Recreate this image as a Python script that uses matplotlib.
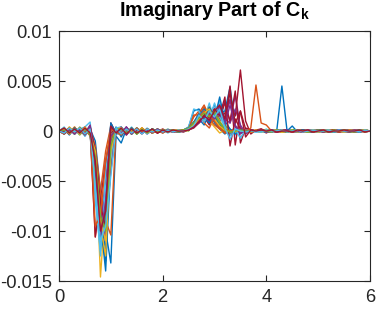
import numpy as np
import matplotlib
matplotlib.use("Agg")
import matplotlib.pyplot as plt

plt.rcParams['font.family'] = ['Liberation Sans', 'DejaVu Sans']
plt.rcParams['mathtext.fontset'] = 'custom'
plt.rcParams['mathtext.rm'] = 'Liberation Sans'
plt.rcParams['mathtext.bf'] = 'Liberation Sans:bold'
plt.rcParams['axes.unicode_minus'] = False

# x grid (frequency), step 0.1 from 0 to 6
x_values = [round(0.1 * k, 1) for k in range(61)]
UNIT = 1e-4  # values below are in units of 1e-4

# segment A: x = 0.0 .. 0.6
seg_A = [
    [0, 2, -3, 2, -2, 3, -4], [0, -2, 3, -1, 2, -3, 1], [0, 1, -2, 3, -3, 2, -2],
    [0, -3, 2, -2, 3, -2, 3], [0, 2, -1, 3, -2, -3, 2], [0, -1, 3, -3, 2, 4, 9],
    [0, 3, -2, 4, -3, 2, -1], [0, -2, 2, -3, 3, -5, 2], [0, 1, -3, 2, -1, 3, -3],
    [0, -3, 4, -2, 2, -4, 4], [0, 2, -2, 1, -3, 3, -2], [0, -1, 2, -3, 3, -2, 5],
    [0, 4, -3, 2, -2, 3, -3], [0, -2, 3, -2, 1, -4, 3], [0, 2, -4, 3, -2, 2, -1],
    [0, -3, 2, -1, 3, -3, 2], [0, 1, -2, 4, -3, 3, -4], [0, -2, 3, -3, 2, -2, 6],
    [0, 3, -1, 2, -4, 2, -2], [0, -1, 2, -2, 3, -5, 3], [0, 2, -3, 3, -2, 4, -3],
    [0, -3, 1, -2, 2, -3, 2], [0, 2, -2, 3, -3, 2, -5], [0, -2, 4, -1, 2, -3, 3],
    [0, 1, -3, 2, -2, 3, -2], [0, -2, 2, -3, 4, -2, 4], [0, 3, -2, 1, -3, 2, -3],
    [0, -1, 3, -2, 2, -4, 4], [0, 2, -2, 3, -1, 3, -2], [0, -3, 2, -2, 3, -2, 3],
    [0, 2, -3, 2, -3, 4, -3], [0, -2, 1, -3, 2, -3, 5], [0, 1, -2, 2, -2, 2, -4],
    [0, -2, 3, -1, 3, -3, 2], [0, 3, -2, 2, -2, 3, -2],
]

# segment B: x = 0.7 .. 1.1 (trough)
seg_B = [
    [-20, -90, -140, -30, 2], [-106, -60, -20, 5, -2], [-15, -146, -70, -5, 3],
    [-30, -95, -85, -8, 1], [-25, -80, -100, -10, 2], [-40, -110, -60, 8, -3],
    [-20, -75, -105, -15, 3], [-10, -60, -100, -132, -5], [-35, -100, -80, 3, -1],
    [-20, -120, -90, -10, 2], [-45, -90, -50, 4, -2], [-30, -105, -75, -5, 1],
    [-60, -125, -40, 6, -2], [-106, -70, -30, -2, 2], [-25, -85, -120, -20, 3],
    [-15, -60, -90, -104, 2], [-40, -100, -95, -10, 1], [-20, -80, -110, -5, 2],
    [-30, -95, -70, 2, -1], [-50, -115, -85, -25, 3], [-35, -90, -80, 8, -2],
    [-20, -100, -130, -10, 4], [-40, -110, -60, -8, 2], [-25, -95, -125, -15, 1],
    [-30, -85, -65, 3, -1], [-45, -100, -90, -5, 2], [-70, -120, -55, -30, 3],
    [-20, -75, -95, -40, 2], [-30, -105, -80, 8, -3], [-95, -85, -30, 2, -1],
    [-20, -90, -110, -20, 2], [-35, -105, -70, -5, 1], [-25, -85, -100, -15, 2],
    [-55, -110, -95, -45, 3], [-30, -100, -80, 5, -2],
]

# segment D: x = 1.2 .. 2.3
seg_D = [
    [3, -2, 3, -2, 2, -2, 1, -1, 1, -1, 1, 0], [-4, 3, -2, 3, -2, 2, -1, 2, -1, 1, -1, 1],
    [2, -3, 2, -2, 3, -1, 2, -2, 1, -1, 0, 1], [-2, 4, -3, 2, -2, 2, -2, 1, -1, 1, -1, 0],
    [4, -2, 2, -3, 2, -1, 2, -1, 1, 0, 1, -1], [-3, 2, -3, 2, -2, 3, -1, 1, -2, 1, -1, 1],
    [2, -4, 3, -2, 2, -2, 2, -1, 1, -1, 1, 0], [-12, 2, -2, 3, -2, 1, -2, 1, -1, 1, 0, -1],
    [3, -3, 2, -1, 3, -2, 1, -2, 1, -1, 1, 0], [-2, 3, -3, 2, -1, 2, -2, 1, -1, 2, -1, 1],
    [4, -3, 1, -2, 2, -3, 1, -1, 2, -1, 0, -1], [-3, 2, -2, 3, -2, 1, -1, 2, -1, 0, 1, -1],
    [2, -2, 4, -2, 1, -2, 2, -1, 1, -1, 1, 1], [-4, 3, -2, 1, -3, 2, -1, 1, -1, 1, -1, 0],
    [3, -1, 2, -3, 2, -1, 2, -2, 1, 0, 1, -1], [-2, 3, -3, 2, -2, 2, -1, 1, -2, 1, -1, 1],
    [2, -3, 2, -2, 3, -2, 1, -1, 1, -1, 1, -1], [-3, 4, -2, 2, -2, 1, -2, 2, -1, 1, 0, 1],
    [3, -2, 3, -3, 1, -2, 2, -1, 1, -1, 1, 0], [-2, 2, -2, 3, -2, 2, -1, 1, -1, 2, -1, 0],
    [4, -3, 2, -1, 2, -2, 1, -2, 1, -1, 1, -1], [-6, 3, -3, 2, -2, 1, -2, 1, -1, 1, -1, 1],
    [2, -2, 3, -2, 3, -1, 1, -1, 2, -1, 0, -1], [-3, 3, -1, 2, -2, 2, -2, 1, -1, 1, -1, 1],
    [3, -4, 2, -2, 1, -2, 2, -1, 1, -1, 1, 0], [-2, 2, -3, 3, -2, 2, -1, 2, -1, 1, -1, 1],
    [4, -2, 2, -2, 2, -3, 1, -1, 1, -2, 1, -1], [-3, 3, -2, 1, -2, 2, -1, 1, -1, 1, 0, 1],
    [2, -3, 3, -2, 2, -1, 2, -1, 1, -1, 1, -1], [-4, 2, -2, 3, -1, 2, -2, 1, -2, 1, -1, 0],
    [3, -2, 1, -2, 3, -2, 1, -1, 1, -1, 1, 1], [-2, 4, -3, 2, -2, 1, -1, 2, -1, 1, -1, 0],
    [2, -2, 2, -3, 2, -2, 2, -1, 1, 0, 1, -1], [-3, 2, -2, 2, -3, 2, -1, 1, -1, 1, -1, 1],
    [3, -3, 2, -2, 1, -1, 2, -2, 1, -1, 1, 0],
]

# segment E: x = 2.4 .. 3.8 (positive bumps)
seg_E = [
    [0, 2, 5, 12, 6, 18, 8, 2, -3, 1, 0, -1, 0, 1, 0],
    [1, 3, 14, 20, 8, 3, 14, 5, -2, 0, 1, 0, -1, 0, 1],
    [0, 1, 6, 14, 22, 10, 4, -2, 1, 0, -1, 1, 0, 0, 0],
    [-1, 2, 4, 10, 18, 8, 22, 25, 6, -4, 1, 0, 1, -1, 0],
    [1, 0, 8, 15, 10, 20, 12, 4, -1, 1, 0, -1, 0, 1, 0],
    [0, 3, 6, 18, 12, 28, 10, 20, 4, -3, 2, -7, 1, 0, -1],
    [0, 1, 3, 8, 14, 6, 20, 10, 18, 30, 15, 61, 10, -3, 1],
    [1, 2, 8, 12, 20, 14, 26, 18, 20, 44, 5, -2, 1, 0, 0],
    [0, 2, 6, 16, 24, 12, 6, 2, -1, 0, 1, 0, 0, -1, 0],
    [-1, 1, 5, 10, 16, 22, 14, 6, 1, -1, 0, 1, 0, 0, 1],
    [0, 2, 4, 8, 12, 20, 14, 26, 12, 8, 36, 4, -3, 1, 0],
    [1, 3, 9, 14, 20, 12, 18, 8, 2, -2, 1, 0, 0, 0, 0],
    [0, 2, 7, 13, 9, 22, 16, 30, 6, 2, -4, 1, 0, 0, -1],
    [0, 1, 4, 10, 16, 12, 24, 16, 10, 45, -14, 20, 2, -1, 0],
    [1, 4, 20, 22, 14, 8, 18, 6, 1, -2, 1, 0, 0, 1, 0],
    [0, 2, 8, 18, 26, 14, 10, 3, -2, 1, 0, 0, 1, 0, 0],
    [0, 3, 7, 12, 18, 24, 16, 8, 2, -1, 1, 0, 0, 0, 0],
    [-1, 2, 5, 11, 15, 10, 20, 14, 30, 8, 22, 6, -2, 1, 0],
    [1, 2, 6, 10, 14, 18, 12, 16, 6, 1, -1, 0, 1, 0, 0],
    [0, 4, 22, 20, 10, 16, 24, 8, 3, 0, 1, 0, -1, 0, 0],
    [0, 2, 5, 9, 18, 14, 22, 12, 28, 10, 40, -12, 3, 1, 0],
    [0, 3, 8, 14, 22, 16, 12, 34, 10, 2, -3, 1, 0, 0, 0],
    [1, 2, 16, 16, 10, 22, 14, 5, 1, -1, 0, 1, 0, 0, 0],
    [0, 1, 6, 13, 18, 14, 20, 10, 3, 0, 1, 0, 0, -1, 0],
    [0, 3, 7, 12, 20, 16, 10, 18, 6, 26, 4, -2, 1, 0, 0],
    [1, 2, 7, 15, 12, 20, 16, 9, 2, -1, 1, 0, 0, 0, 0],
    [0, 2, 6, 14, 20, 12, 28, 14, 4, -5, 2, -7, 1, 0, 0],
    [0, 2, 5, 11, 17, 13, 22, 15, 34, -15, 12, 2, -1, 0, 0],
    [0, 3, 9, 17, 12, 24, 14, 6, 1, -1, 0, 1, 0, 0, 0],
    [1, 2, 8, 14, 20, 16, 10, 4, 2, 0, 1, 0, -1, 3, 46],
    [0, 2, 6, 12, 18, 22, 12, 5, 1, -1, 0, 0, 1, 0, 0],
    [0, 1, 4, 9, 14, 18, 12, 24, 10, 32, 6, -3, 1, 0, 0],
    [1, 3, 8, 13, 18, 14, 20, 8, 2, -1, 0, 1, 0, 0, 0],
    [0, 2, 5, 16, 10, 20, 14, 22, 3, -8, 2, 0, -1, 0, 0],
    [0, 1, 4, 9, 15, 11, 20, 26, 12, 38, 8, 20, -6, 1, 0],
]

# segment F: x = 3.9 .. 6.0 (tail)
seg_F = [
    [0, 1, -1, 1, 0, -1, 1, 0, -1, 1, 0, 0, 1, -1, 0, 1, 0, -1, 0, 1, 0, 0],
    [1, -1, 0, 1, -1, 1, 0, -1, 1, 0, -1, 1, 0, 0, -1, 1, 0, 1, -1, 0, 0, 0],
    [-1, 1, 0, -1, 1, 0, 1, -1, 0, 1, -1, 0, 1, 0, 0, -1, 1, 0, 0, -1, 1, 0],
    [1, 0, -1, 1, -1, 0, 1, 0, -1, 0, 1, -1, 0, 1, 0, 0, -1, 1, 0, 0, 0, 0],
    [0, -1, 1, 0, 1, -1, 0, 1, 0, -1, 1, 0, -1, 0, 1, 0, 0, 1, -1, 0, 1, 0],
    [-1, 2, -1, 0, 1, 0, -1, 1, 0, 0, -1, 1, 0, -1, 1, 0, 0, 0, 1, -1, 0, 0],
    [2, -1, 1, -1, 0, 1, -1, 0, 1, -1, 0, 1, 0, 0, -1, 1, 0, -1, 0, 1, 0, 0],
    [0, 1, 0, -1, 1, -1, 1, 0, 0, 1, -1, 0, 1, -1, 0, 0, 1, 0, -1, 0, 1, 0],
    [1, -1, 1, 0, -1, 0, 1, -1, 1, 0, 0, -1, 1, 0, 0, 1, -1, 0, 0, 1, 0, 0],
    [0, 0, 1, -1, 0, 1, 0, -1, 1, -1, 1, 0, 0, -1, 1, 0, 0, 1, 0, -1, 0, 0],
    [1, 0, -1, 1, 0, -1, 1, 1, -1, 0, 1, 0, -1, 1, 0, -1, 0, 0, 1, 0, 0, 0],
    [-1, 1, 0, 0, 1, -1, 0, 1, 0, -1, 0, 1, -1, 0, 1, 0, 1, -1, 0, 0, 1, 0],
    [0, 1, -1, 0, 0, 1, -1, 1, 0, 0, -1, 1, 0, 1, -1, 0, 0, 1, 0, -1, 0, 0],
    [1, -2, 1, 0, -1, 1, 0, 0, -1, 1, 0, -1, 1, 0, 0, 1, -1, 0, 1, 0, 0, 0],
    [0, -1, 0, 1, -1, 1, 0, -1, 0, 1, 0, 0, -1, 1, 0, 0, 1, -1, 0, 1, 0, 0],
    [1, 0, 1, -1, 0, 0, 1, -1, 1, 0, -1, 0, 1, 0, -1, 1, 0, 0, -1, 0, 1, 0],
    [-1, 0, 1, 0, -1, 1, 0, 1, -1, 0, 0, 1, 0, -1, 1, 0, -1, 0, 1, 0, 0, 0],
    [1, -1, 0, 1, 0, -1, 1, 0, 0, -1, 1, 0, 1, -1, 0, 1, 0, 0, -1, 1, 0, 0],
    [0, 1, -1, 1, -1, 0, 0, 1, -1, 1, 0, -1, 0, 0, 1, 0, -1, 1, 0, 0, -1, 0],
    [0, -1, 1, 0, 1, 0, -1, 0, 1, -1, 0, 1, 0, 1, -1, 0, 0, 1, 0, -1, 0, 0],
    [2, 0, -1, 1, 0, 1, -1, 0, 1, 0, -1, 1, 0, 0, 1, -1, 0, 0, 1, 0, 0, 0],
    [0, 1, 0, -1, 1, 0, 1, -1, 0, 0, 1, -1, 1, 0, 0, -1, 1, 0, 0, 1, -1, 0],
    [1, -1, 1, 0, 0, -1, 1, 0, -1, 1, 0, 1, -1, 0, 1, 0, 0, -1, 1, 0, 0, 0],
    [-1, 1, 0, 1, -1, 0, 0, 1, 0, -1, 1, 0, 0, 1, -1, 0, 1, 0, -1, 0, 1, 0],
    [0, 0, 1, -1, 1, 0, -1, 1, 0, 0, -1, 1, 0, -1, 0, 1, 0, 1, -1, 0, 0, 0],
    [1, -1, 0, 0, 1, -1, 1, 0, 1, -1, 0, 0, 1, 0, -1, 1, 0, -1, 0, 1, 0, 0],
    [-1, 1, -1, 1, 0, 0, 1, -1, 0, 1, 0, -1, 1, 0, 0, 1, -1, 0, 1, 0, 0, 0],
    [1, 0, 0, -1, 1, 1, -1, 0, 1, 0, -1, 1, 0, 0, 1, -1, 0, 1, 0, -1, 0, 0],
    [0, -1, 1, 0, 45, 0, 5, -1, 1, 0, -1, 1, 0, 1, -1, 0, 1, 0, 0, -1, 1, 0],
    [8, 6, 0, -1, 1, 0, -1, 1, 0, 1, -1, 0, 1, 0, 0, -1, 1, 0, 1, 0, -1, 0],
    [0, 1, 0, 1, -1, 0, 1, -1, 0, 0, 1, -1, 0, 1, 0, 0, -1, 1, 0, 0, 1, 0],
    [1, -1, 1, -1, 0, 1, 0, 0, -1, 1, 0, 1, -1, 0, 0, 1, 0, -1, 1, 0, 0, 0],
    [0, 0, -1, 1, 0, -1, 1, 1, 0, -1, 0, 1, 0, -1, 1, 0, 1, 0, -1, 0, 0, 0],
    [-1, 1, 0, 0, 1, -1, 0, 1, -1, 0, 1, 0, 0, 1, -1, 1, 0, 0, 0, -1, 1, 0],
    [1, 0, 1, -1, 0, 0, -1, 1, 0, 1, -1, 0, 1, -1, 0, 0, 1, 0, 0, 1, -1, 0],
]

colors = ['#0072BD', '#D95319', '#EDB120', '#7E2F8E', '#77AC30', '#4DBEEE', '#A2142F']

y_ticks = [-0.015, -0.01, -0.005, 0, 0.005, 0.01]
y_tick_labels = ['-0.015', '-0.01', '-0.005', '0', '0.005', '0.01']
x_ticks = [0, 2, 4, 6]
x_tick_labels = ['0', '2', '4', '6']

for name, seg, n in [('A', seg_A, 7), ('B', seg_B, 5), ('D', seg_D, 12), ('E', seg_E, 15), ('F', seg_F, 22)]:
    for r, row in enumerate(seg):
        assert len(row) == n, f"seg {name} row {r} has {len(row)}"

series = [np.array(a + b + d + e + f) * UNIT for a, b, d, e, f in zip(seg_A, seg_B, seg_D, seg_E, seg_F)]

fig = plt.figure(figsize=(3.91, 3.12), dpi=100)
ax = fig.add_axes([59 / 391, 31 / 312, 311 / 391, 250 / 312])
x = np.array(x_values)
for i, s in enumerate(series):
    ax.plot(x, s, color=colors[i % 7], lw=1.0)

ax.set_xlim(0, 6)
ax.set_ylim(-0.015, 0.01)
ax.set_xticks(x_ticks)
ax.set_xticklabels(x_tick_labels)
ax.set_yticks(y_ticks)
ax.set_yticklabels(y_tick_labels)
edge = '#262626'
for sp in ax.spines.values():
    sp.set_color(edge)
    sp.set_linewidth(0.8)
ax.tick_params(direction='in', length=4, width=0.8, colors=edge, labelsize=13.2,
               top=True, right=True)
ax.tick_params(axis='x', pad=6)
ax.tick_params(axis='y', pad=5)
ax.set_title(r'Imaginary Part of C$_\mathbf{k}$', fontsize=14.2, fontweight='bold',
             color='black', pad=10.5)

fig.savefig('out.png', dpi=100)
